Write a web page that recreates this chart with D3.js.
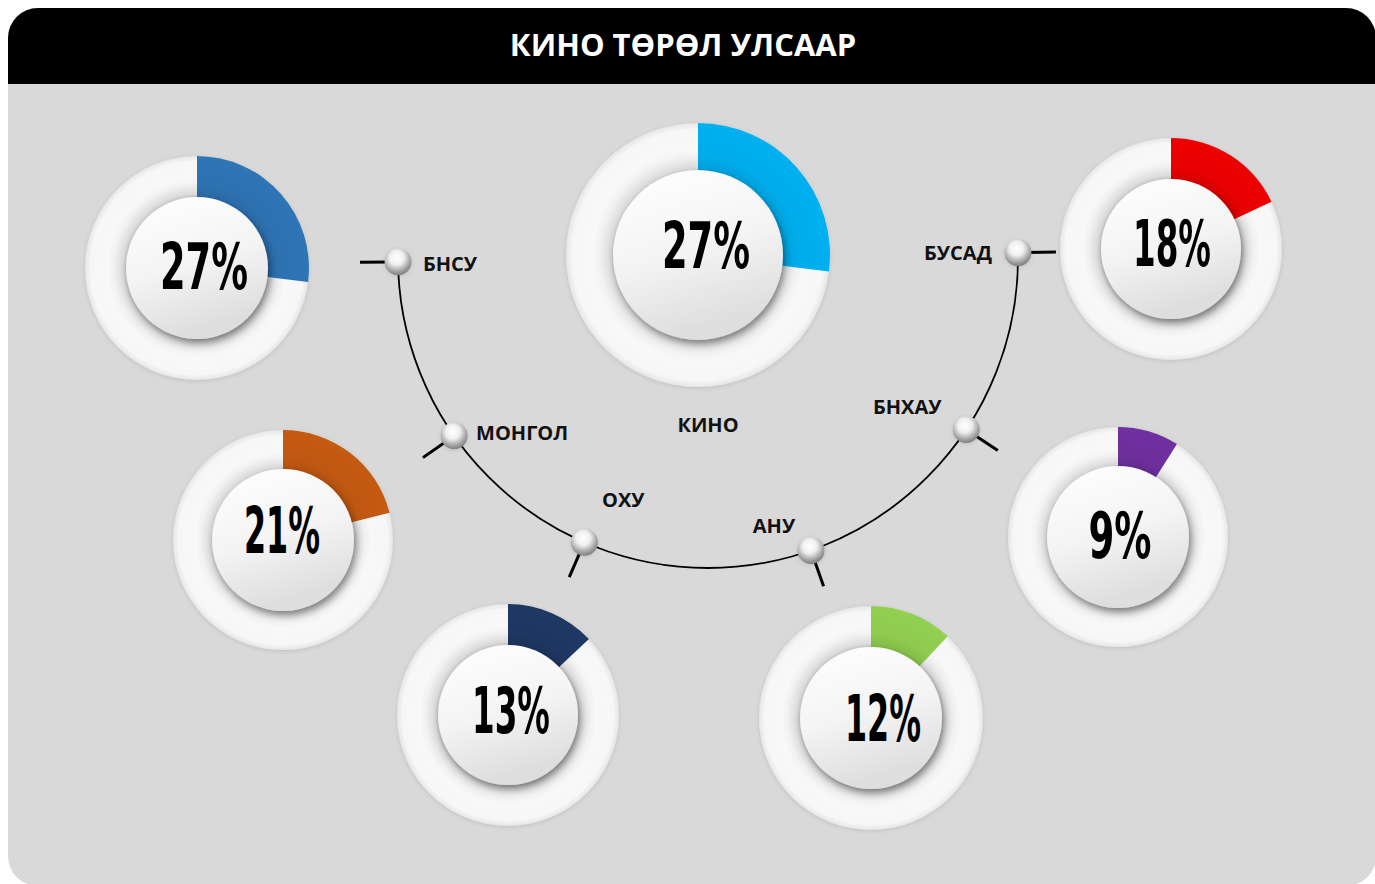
<!DOCTYPE html>
<html>
<head>
  <meta charset="utf-8">
  <title>Кино төрөл улсаар</title>
  <script src="https://d3js.org/d3.v7.min.js"></script>
  <style>
    body { margin: 0; background: #ffffff; }
    svg { display: block; }
    .title { fill: #ffffff; font: bold 31px "Open Sans", sans-serif; }
    .label { fill: #111111; font: bold 20px "Open Sans", sans-serif; }
    .pct { fill: #000000; font-family: "Liberation Sans Narrow", "DejaVu Sans Condensed", sans-serif; font-weight: bold; font-size: 64px; }
  </style>
</head>
<body>
<script>
// data
var title = "КИНО ТӨРӨЛ УЛСААР";
var centerLabel = "КИНО";
var centerShare = 27;
var countries = ["БНСУ", "МОНГОЛ", "ОХУ", "АНУ", "БНХАУ", "БУСАД"];
var shares = [27, 21, 13, 12, 9, 18];
var colors = ["#2e75b6", "#c55a11", "#1f3864", "#92d050", "#7030a0", "#ee0000"];
var centerColor = "#00b0f0";

// layout
var width = 1375, height = 884;
var arcCx = 708, arcCy = 258, arcR = 310;
// where each country sits on the half circle (degrees, 0 = right, 180 = left)
var knobAngles = [179.3, 145, 113.5, 70.6, 33.6, -1];
// label anchors relative to knob
var labelPos = [
  {dx: 25, dy: 2, anchor: "start"},
  {dx: 22, dy: -3, anchor: "start"},
  {dx: 39, dy: -42, anchor: "middle"},
  {dx: -37, dy: -24, anchor: "middle"},
  {dx: -59, dy: -23, anchor: "middle"},
  {dx: -26, dy: 0, anchor: "end"}
];
// donut positions for the countries, then the center one (tw = drawn text width)
var donuts = [
  {cx: 197, cy: 268, r: 112, ri: 71, tx: 7, ty: -2, tw: 88},
  {cx: 283, cy: 540, r: 110, ri: 71, tx: -1, ty: -10, tw: 76},
  {cx: 508, cy: 715, r: 111, ri: 70, tx: 3, ty: -5, tw: 78},
  {cx: 871, cy: 718, r: 112, ri: 71, tx: 12, ty: 0, tw: 76},
  {cx: 1118, cy: 537, r: 110, ri: 71, tx: 2, ty: -2, tw: 63},
  {cx: 1171, cy: 249, r: 111, ri: 70, tx: 1, ty: -6, tw: 78}
];
var mainDonut = {cx: 698, cy: 255, r: 132, ri: 85, tx: 8, ty: -10, tw: 88};

var svg = d3.select("body").append("svg")
  .attr("width", width).attr("height", height);

var defs = svg.append("defs");

defs.append("clipPath").attr("id", "panelClip")
  .append("rect")
  .attr("x", 8).attr("y", 8).attr("width", 1368).attr("height", 878)
  .attr("rx", 30).attr("ry", 30);

var ringGrad = defs.append("radialGradient").attr("id", "ringGrad");
[[0.6, "#d4d4d4"], [0.66, "#efefef"], [0.8, "#fdfdfd"], [0.95, "#f8f8f8"], [1, "#e6e6e6"]]
  .forEach(function(s) { ringGrad.append("stop").attr("offset", s[0]).attr("stop-color", s[1]); });

var faceGrad = defs.append("linearGradient").attr("id", "faceGrad")
  .attr("x1", 0).attr("y1", 0).attr("x2", 0.3).attr("y2", 1);
[[0, "#ffffff"], [0.55, "#f4f4f4"], [1, "#dedede"]]
  .forEach(function(s) { faceGrad.append("stop").attr("offset", s[0]).attr("stop-color", s[1]); });

var shadeGrad = defs.append("radialGradient").attr("id", "shadeGrad");
[[0.6, "rgba(0,0,0,0.25)"], [0.75, "rgba(0,0,0,0.05)"], [1, "rgba(0,0,0,0)"]]
  .forEach(function(s) { shadeGrad.append("stop").attr("offset", s[0]).attr("stop-color", s[1]); });

var knobGrad = defs.append("radialGradient").attr("id", "knobGrad")
  .attr("cx", 0.45).attr("cy", 0.35).attr("r", 0.65);
[[0, "#ffffff"], [0.4, "#f0f0f0"], [0.8, "#a0a0a0"], [1, "#7f7f7f"]]
  .forEach(function(s) { knobGrad.append("stop").attr("offset", s[0]).attr("stop-color", s[1]); });

var faceShadow = defs.append("filter").attr("id", "faceShadow")
  .attr("x", "-30%").attr("y", "-30%").attr("width", "160%").attr("height", "160%");
faceShadow.append("feDropShadow").attr("dx", 2).attr("dy", 4).attr("stdDeviation", 3.5)
  .attr("flood-color", "#000").attr("flood-opacity", 0.4);

var ringShadow = defs.append("filter").attr("id", "ringShadow")
  .attr("x", "-20%").attr("y", "-20%").attr("width", "140%").attr("height", "140%");
ringShadow.append("feDropShadow").attr("dx", 0).attr("dy", 1).attr("stdDeviation", 2)
  .attr("flood-color", "#000").attr("flood-opacity", 0.12);

// panel
var panel = svg.append("g").attr("clip-path", "url(#panelClip)");
panel.append("rect").attr("x", 0).attr("y", 0).attr("width", width).attr("height", height)
  .attr("fill", "#d9d9d9");
panel.append("rect").attr("x", 0).attr("y", 0).attr("width", width).attr("height", 84)
  .attr("fill", "#000000");

svg.append("text").attr("class", "title")
  .attr("x", 683).attr("y", 45).attr("text-anchor", "middle").attr("dy", "0.35em")
  .text(title);

// half circle connecting the countries
var p = d3.path();
p.arc(arcCx, arcCy, arcR, 0, Math.PI, false);
svg.append("path").attr("d", p.toString())
  .attr("fill", "none").attr("stroke", "#000").attr("stroke-width", 1.8);

function onArc(deg, r) {
  var a = deg * Math.PI / 180;
  return [arcCx + r * Math.cos(a), arcCy + r * Math.sin(a)];
}

var knobs = svg.selectAll(".knob").data(countries).enter().append("g")
  .attr("class", "knob");

knobs.append("line")
  .attr("x1", function(d, i) { return onArc(knobAngles[i], arcR + 8)[0]; })
  .attr("y1", function(d, i) { return onArc(knobAngles[i], arcR + 8)[1]; })
  .attr("x2", function(d, i) { return onArc(knobAngles[i], arcR + 38)[0]; })
  .attr("y2", function(d, i) { return onArc(knobAngles[i], arcR + 38)[1]; })
  .attr("stroke", "#000").attr("stroke-width", 3);

knobs.append("circle")
  .attr("cx", function(d, i) { return onArc(knobAngles[i], arcR)[0]; })
  .attr("cy", function(d, i) { return onArc(knobAngles[i], arcR)[1]; })
  .attr("r", 13.5)
  .attr("fill", "url(#knobGrad)")
  .attr("filter", "url(#ringShadow)");

knobs.append("text").attr("class", "label")
  .attr("x", function(d, i) { return onArc(knobAngles[i], arcR)[0] + labelPos[i].dx; })
  .attr("y", function(d, i) { return onArc(knobAngles[i], arcR)[1] + labelPos[i].dy; })
  .attr("dy", "0.35em")
  .attr("text-anchor", function(d, i) { return labelPos[i].anchor; })
  .text(function(d) { return d; });

svg.append("text").attr("class", "label")
  .attr("x", 708).attr("y", 425).attr("dy", "0.35em").attr("text-anchor", "middle")
  .text(centerLabel);

// donuts
var pie = d3.pie().sort(null).value(function(d) { return d; });

function drawDonut(pos, value, color) {
  var g = svg.append("g").attr("transform", "translate(" + pos.cx + "," + pos.cy + ")");
  g.append("circle").attr("r", pos.r).attr("fill", "url(#ringGrad)")
    .attr("filter", "url(#ringShadow)");
  var slice = pie([value, 100 - value])[0];
  g.append("path")
    .attr("d", d3.arc().innerRadius(pos.ri - 2).outerRadius(pos.r)(slice))
    .attr("fill", color);
  g.append("circle").attr("r", pos.r).attr("fill", "url(#shadeGrad)").attr("opacity", 0.5);
  g.append("circle").attr("r", pos.ri).attr("fill", "url(#faceGrad)")
    .attr("filter", "url(#faceShadow)");
  var t = g.append("text").attr("class", "pct")
    .attr("text-anchor", "middle").attr("dy", "0.36em")
    .text(value + "%");
  // squeeze to the narrow look of the original
  var k = pos.tw / t.node().getComputedTextLength();
  t.attr("transform", "translate(" + pos.tx + "," + pos.ty + ") scale(" + k + ",1)");
  return g;
}

donuts.forEach(function(pos, i) { drawDonut(pos, shares[i], colors[i]); });
drawDonut(mainDonut, centerShare, centerColor);
</script>
</body>
</html>
